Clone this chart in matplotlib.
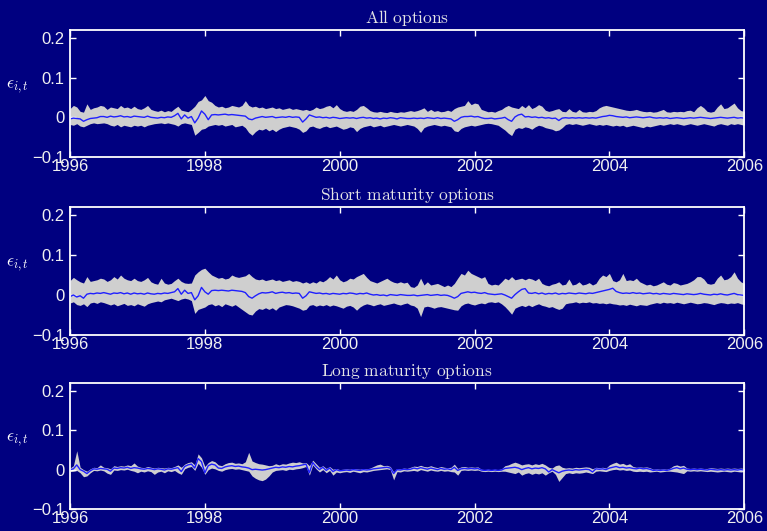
import numpy as np
import matplotlib
matplotlib.use("Agg")
from matplotlib import pyplot as plt

# pricing errors in thousandths, 20 points per year
years = np.linspace(1996, 2006, 201)

all_hi = [22, 30, 26, 15, 13, 34, 20, 24, 26, 30, 28,
          20, 26, 24, 22, 30, 24, 26, 22, 28, 22,
          20, 24, 30, 20, 17, 15, 18, 14, 17, 15,
          22, 28, 18, 16, 14, 20, 28, 40, 44, 55,
          42, 38, 30, 26, 28, 24, 26, 30, 28, 26,
          30, 42, 30, 26, 28, 24, 26, 22, 24, 26,
          22, 24, 20, 22, 24, 20, 22, 20, 18, 20,
          17, 20, 26, 22, 24, 28, 30, 24, 32, 22,
          17, 15, 17, 15, 20, 28, 30, 24, 17, 14,
          13, 15, 13, 12, 15, 13, 12, 14, 13, 15,
          17, 15, 17, 20, 24, 15, 20, 15, 17, 14,
          15, 18, 15, 22, 26, 28, 30, 42, 32, 36,
          34, 20, 17, 14, 15, 13, 17, 20, 26, 30,
          26, 24, 22, 30, 24, 32, 22, 26, 32, 28,
          18, 15, 17, 20, 22, 15, 14, 22, 15, 13,
          20, 14, 13, 15, 14, 17, 24, 28, 30, 28,
          26, 24, 22, 20, 18, 17, 18, 20, 17, 15,
          14, 15, 13, 14, 17, 20, 14, 13, 15, 14,
          15, 14, 17, 18, 14, 24, 30, 24, 15, 13,
          15, 26, 34, 22, 24, 30, 36, 24, 17, 15]
all_lo = [-18, -20, -16, -22, -24, -20, -16, -14, -16, -15, -14,
          -16, -20, -22, -18, -24, -20, -22, -24, -20, -22,
          -20, -24, -20, -18, -16, -15, -14, -16, -14, -16,
          -18, -22, -16, -14, -16, -18, -45, -38, -30, -28,
          -22, -20, -18, -20, -18, -22, -20, -18, -24, -22,
          -20, -26, -38, -45, -36, -30, -32, -28, -34, -30,
          -36, -30, -26, -24, -22, -24, -26, -30, -38, -34,
          -24, -22, -26, -28, -24, -22, -26, -24, -22, -26,
          -30, -28, -24, -26, -36, -28, -24, -22, -20, -24,
          -22, -20, -24, -22, -20, -18, -20, -22, -20, -18,
          -20, -22, -28, -38, -26, -22, -20, -18, -20, -22,
          -20, -22, -24, -34, -36, -28, -24, -22, -20, -22,
          -20, -18, -16, -15, -16, -18, -20, -26, -32, -40,
          -46, -30, -26, -28, -24, -26, -30, -24, -20, -22,
          -26, -28, -30, -34, -32, -26, -18, -16, -18, -16,
          -18, -20, -18, -16, -18, -20, -18, -20, -18, -20,
          -22, -20, -22, -20, -24, -22, -20, -22, -24, -26,
          -22, -24, -22, -20, -18, -20, -18, -16, -18, -16,
          -18, -20, -18, -16, -18, -20, -18, -16, -18, -20,
          -22, -18, -16, -18, -20, -16, -18, -16, -18, -20]
all_mid = [-4, -2, -3, -4, -10, -6, -3, -2, -1, 2, 2,
           0, 3, 1, 2, 4, 1, 2, 0, 3, 2,
           1, 0, 3, 0, -1, -2, 0, -1, 1, 0,
           4, 10, -4, 6, -2, 2, -14, -2, 16, 8,
           -6, 6, 7, 6, 7, 8, 6, 7, 6, 5,
           4, 3, -4, -6, -2, 0, 2, 0, 1, 2,
           -1, 0, 1, 0, 2, 0, 1, 0, -12, -4,
           6, 3, 0, 1, -1, 0, -2, 0, -1, -3,
           -2, -1, -2, -1, -3, -1, 0, -2, -1, -3,
           -2, -4, -2, -3, -1, -2, -4, -1, -2, -3,
           -3, -2, -3, -2, -3, -1, -2, -3, -1, -3,
           -2, -3, -4, -10, -6, 0, 2, 2, 3, 1,
           2, -1, -3, -3, -2, -4, -3, -2, 0, -6,
           -10, 1, 6, 8, 1, 2, 0, 1, -1, 0,
           -2, -1, -3, -2, -8, -2, -1, -2, -1, -2,
           -1, -2, -1, -2, -1, -2, 0, 2, 3, 5,
           4, 2, 1, 0, 1, -1, 0, 1, 0, -1,
           0, 1, -1, -2, -1, -2, -1, -3, -2, -1,
           -2, -3, -2, -1, -2, -1, 0, -1, -2, -3,
           -2, -1, 0, -1, -2, -1, 0, -2, -1, -2]

short_hi = [36, 44, 38, 33, 30, 46, 34, 36, 38, 42, 40,
            34, 38, 46, 40, 50, 42, 38, 36, 42, 36,
            34, 38, 44, 33, 29, 27, 42, 30, 27, 29,
            36, 42, 34, 30, 29, 30, 50, 58, 64, 67,
            58, 50, 46, 42, 44, 40, 42, 50, 46, 44,
            46, 48, 54, 46, 40, 38, 40, 36, 38, 40,
            36, 38, 34, 36, 38, 34, 36, 34, 30, 33,
            29, 33, 30, 36, 33, 38, 46, 40, 50, 38,
            33, 36, 42, 40, 46, 50, 54, 44, 36, 33,
            30, 34, 38, 42, 36, 32, 30, 33, 30, 32,
            21, 19, 25, 42, 25, 33, 25, 27, 29, 25,
            21, 25, 21, 29, 42, 54, 50, 62, 54, 50,
            46, 42, 46, 29, 25, 27, 25, 33, 42, 38,
            46, 38, 40, 42, 38, 42, 40, 36, 42, 29,
            25, 23, 27, 29, 33, 25, 27, 40, 25, 27,
            33, 25, 27, 31, 25, 29, 42, 50, 46, 54,
            36, 33, 38, 54, 36, 38, 36, 42, 33, 29,
            25, 27, 23, 25, 29, 33, 27, 25, 31, 29,
            25, 27, 29, 33, 38, 46, 46, 40, 29, 27,
            29, 42, 50, 38, 40, 46, 58, 42, 33, 29]
short_lo = [-20, -17, -24, -26, -22, -29, -20, -18, -21, -17, -19,
            -22, -25, -22, -27, -24, -21, -26, -24, -27, -22,
            -25, -28, -22, -19, -17, -15, -17, -12, -10, -8,
            -11, -14, -10, -8, -10, -14, -46, -36, -33, -30,
            -24, -22, -27, -24, -29, -22, -25, -28, -24, -30,
            -36, -42, -48, -50, -40, -34, -36, -32, -36, -32,
            -38, -30, -27, -24, -25, -27, -30, -33, -38, -36,
            -26, -24, -28, -25, -27, -24, -28, -25, -27, -30,
            -33, -28, -26, -30, -38, -30, -25, -22, -24, -27,
            -24, -22, -26, -24, -22, -20, -23, -25, -22, -20,
            -25, -27, -33, -54, -30, -28, -30, -33, -30, -29,
            -31, -33, -35, -37, -38, -27, -22, -20, -23, -25,
            -22, -20, -22, -18, -17, -19, -17, -22, -29, -38,
            -48, -33, -29, -26, -29, -25, -29, -25, -22, -26,
            -28, -31, -29, -33, -36, -33, -22, -20, -19, -17,
            -20, -18, -19, -17, -20, -19, -21, -20, -22, -20,
            -22, -23, -25, -24, -26, -23, -25, -27, -24, -25,
            -26, -23, -21, -19, -21, -18, -20, -19, -21, -18,
            -20, -22, -20, -18, -20, -22, -21, -19, -20, -22,
            -24, -21, -19, -20, -22, -20, -21, -19, -22, -24]
short_mid = [-4, 0, -5, -2, -8, 2, 4, 3, 5, 4, 6,
             4, 2, 5, 4, 6, 3, 5, 2, 5, 3,
             4, 2, 5, 3, 2, 4, 3, 5, 4, 6,
             8, 16, 2, 12, 4, 6, -12, -2, 19, 8,
             2, 11, 12, 11, 12, 11, 10, 12, 11, 10,
             9, 6, -4, -8, -2, 3, 6, 5, 6, 8,
             4, 6, 7, 5, 6, 4, 5, 4, -8, -2,
             8, 6, 4, 5, 3, 4, 2, 4, 3, 2,
             4, 3, 5, 4, 2, 4, 3, 5, 2, 0,
             1, -1, 0, -2, 1, 0, -1, 1, 0, -1,
             -1, 0, -2, -1, 0, 1, -1, 0, 1, -1,
             0, -1, -4, -8, -4, 4, 6, 8, 6, 7,
             5, 4, 6, 3, 2, 1, 2, 3, 0, -4,
             -8, 1, 8, 14, 16, 5, 4, 6, 3, 5,
             2, 4, 3, 5, 2, 4, 3, 5, 4, 3,
             5, 4, 3, 5, 4, 6, 8, 10, 12, 14,
             17, 9, 6, 4, 5, 4, 6, 4, 5, 3,
             4, 5, 3, 4, 2, 4, 3, 2, 4, 3,
             2, 1, 3, 2, 1, 2, 4, 2, 1, 0,
             2, 1, 3, 1, 0, 2, 4, 1, 0, -1]

long_hi = [4, 10, 48, 6, 0, -4, 2, 6, 5, 12, 6,
           5, 2, 10, 8, 10, 9, 12, 10, 17, 9,
           6, 5, 8, 6, 4, 6, 5, 4, 6, 5,
           8, 12, 6, 14, 18, 20, 12, 40, 30, 8,
           18, 23, 20, 12, 10, 15, 18, 19, 16, 17,
           15, 20, 44, 22, 18, 15, 14, 12, 10, 11,
           15, 12, 15, 14, 17, 19, 18, 20, 17, 18,
           10, 24, 15, 6, 10, 3, 8, 1, 3, 0,
           1, 2, 1, 3, 2, 1, 3, 2, 4, 8,
           12, 14, 10, 11, 8, -6, 3, 2, 4, 3,
           6, 9, 8, 11, 8, 7, 10, 7, 5, 8,
           6, 5, 6, 14, 3, 7, 8, 6, 7, 6,
           7, 1, 0, 1, 0, 1, 0, 2, 10, 12,
           16, 19, 16, 12, 14, 15, 12, 15, 13, 16,
           12, 6, 4, 10, 12, 6, 4, 5, 4, 6,
           5, 6, 7, 6, 2, 6, 5, 6, 4, 12,
           16, 19, 14, 16, 12, 15, 8, 6, 7, 6,
           7, 5, 1, 2, 1, 2, 1, 4, 10, 12,
           9, 11, 4, 3, 4, 3, 4, 3, 3, 5,
           4, 3, 4, 3, 4, 3, 4, 3, 4, 3]
long_lo = [-5, -4, -2, -8, -18, -16, -8, -2, -3, -1, -3,
           -9, -12, -1, -2, 0, -1, 1, -2, -4, -8,
           -4, -6, -3, -5, -12, -6, -4, -8, -3, -5,
           -2, -8, -12, 2, 6, 8, -2, 16, 6, -12,
           0, 4, 2, -2, -4, 0, 2, 3, 1, 2,
           0, -2, -4, -16, -22, -26, -28, -24, -16, -6,
           -2, -1, 0, -2, 1, 0, 2, 3, 5, 8,
           -14, 12, 2, -6, 0, -8, -2, -14, -6, -8,
           -6, -5, -7, -4, -6, -8, -5, -6, -4, -2,
           -1, 0, 1, 2, 0, -26, -5, -6, -3, -4,
           -3, -2, -4, 0, -2, -4, -1, -3, -4, -2,
           -4, -3, -5, -6, -14, -2, -1, -2, -1, -2,
           -1, -4, -5, -4, -5, -4, -5, -4, -4, -6,
           -8, -10, -6, -14, -10, -8, -12, -9, -11, -8,
           -14, -8, -4, -12, -30, -20, -10, -8, -10, -8,
           -9, -8, -6, -8, -10, -4, -3, -4, -5, -2,
           0, 1, -1, 0, -2, -1, -4, -5, -4, -5,
           -4, -6, -5, -4, -6, -5, -4, -4, -5, -6,
           -8, -10, -3, -4, -3, -4, -3, -4, -5, -4,
           -5, -6, -5, -4, -5, -6, -4, -5, -6, -5]
long_mid = [0, 2, 12, 0, -4, -10, -3, 2, 1, 3, 2,
            1, -4, 4, 3, 5, 4, 6, 3, 5, 4,
            2, 1, 3, 2, 0, 2, 1, -1, 2, 1,
            3, 5, -5, 8, 12, 14, 4, 28, 20, -8,
            10, 14, 12, 4, 3, 7, 9, 10, 8, 9,
            7, 6, 4, 0, 1, 0, -1, 0, 2, 4,
            6, 5, 7, 6, 8, 7, 9, 10, 12, 14,
            -8, 18, 8, 0, 6, -2, 4, -5, 0, -3,
            -2, -1, -2, 0, -1, -2, 0, -1, 0, 2,
            3, 4, 5, 6, 4, -10, 0, -1, 1, 0,
            1, 4, 2, 5, 3, 1, 4, 2, 0, 3,
            1, 2, 0, 6, -2, 2, 3, 2, 3, 2,
            3, -1, -2, -1, -2, -1, -2, -1, 3, 4,
            5, 6, 4, 0, 3, 5, 2, 4, 3, 5,
            2, -6, 0, -4, -8, -4, -2, -1, -2, 0,
            -1, 0, 1, 0, -6, 2, 1, 2, 0, 4,
            6, 8, 5, 6, 4, 5, 3, 2, 4, 2,
            3, 1, -2, -1, -2, -1, -2, 0, 3, 5,
            2, 4, 1, 0, 1, 0, 1, 0, -1, 1,
            0, -1, 0, -1, 0, -1, 0, -1, 0, -1]

titles = ["All options", "Short maturity options", "Long maturity options"]
panels = [(all_lo, all_hi, all_mid), (short_lo, short_hi, short_mid),
          (long_lo, long_hi, long_mid)]
xticks = [1996, 1998, 2000, 2002, 2004, 2006]
yticks = [-0.1, 0, 0.1, 0.2]
ytick_labels = ["\u22120.1", "0", "0.1", "0.2"]

navy = "#000080"
plt.rcParams["mathtext.fontset"] = "cm"

fig = plt.figure(figsize=(7.67, 5.31), dpi=100, facecolor=navy)
# axes boxes in figure fractions (left, bottom, width, height)
boxes = [(0.0913, 0.7043, 0.879, 0.2392),
         (0.0913, 0.3691, 0.879, 0.2411),
         (0.0913, 0.0414, 0.879, 0.2373)]

for box, title, (lo, hi, mid) in zip(boxes, titles, panels):
    ax = fig.add_axes(box, facecolor=navy)
    ax.fill_between(years, np.array(lo) / 1000, np.array(hi) / 1000,
                    color="#cfcfcf", linewidth=0)
    ax.plot(years, np.array(mid) / 1000, color="#1f1fff", lw=1.0)
    ax.set_xlim(1996, 2006)
    ax.set_ylim(-0.1, 0.22)
    ax.set_xticks(xticks)
    ax.set_yticks(yticks)
    ax.set_yticklabels(ytick_labels)
    for s in ax.spines.values():
        s.set_color("white")
        s.set_linewidth(1.3)
    ax.tick_params(direction="in", top=True, right=True, colors="white",
                   length=4, width=1, labelsize=12)
    ax.tick_params(axis="x", pad=1.5)
    ax.tick_params(axis="y", pad=4)
    for lab in ax.get_xticklabels() + ax.get_yticklabels():
        lab.set_family("Liberation Sans")
        lab.set_color("#f0f0f0")
    ax.set_title(r"$\mathrm{" + title.replace(" ", r"\ ") + "}$",
                 color="#e4e4e4", fontsize=12.5, pad=5)
    ax.set_ylabel(r"$\epsilon_{i,t}$", color="white", fontsize=12.5,
                  rotation=0, ha="center", va="center")
    ax.yaxis.set_label_coords(-0.078, 0.55)

fig.savefig("out.png", dpi=100, facecolor=navy)
